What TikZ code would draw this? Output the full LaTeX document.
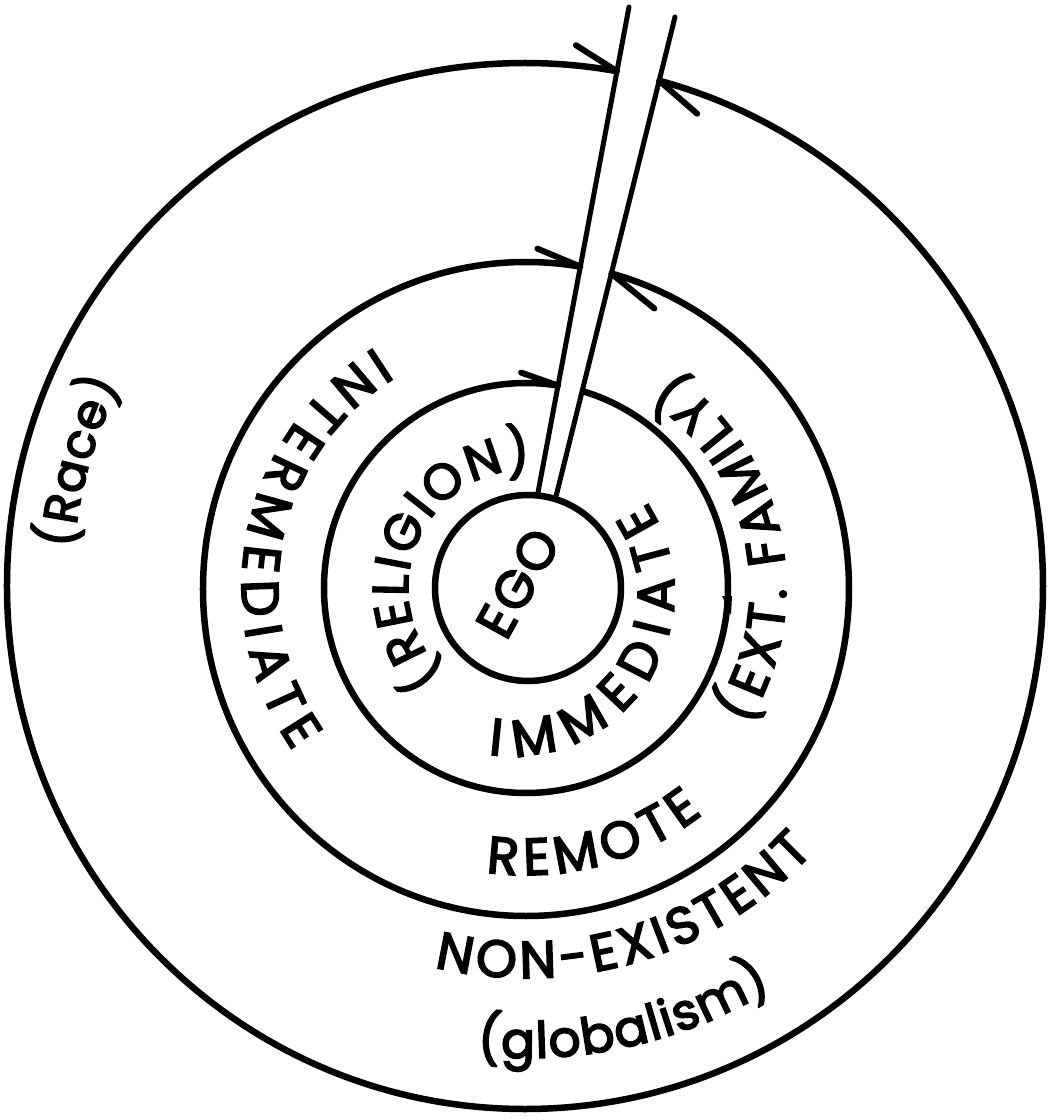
\documentclass[tikz,border=0pt]{standalone}
\usepackage{fontspec}
\newfontfamily\lbl{Poppins}[FakeBold=3.5]
\newfontfamily\lblsp{Poppins}[FakeBold=3.5, LetterSpace=6]
\usetikzlibrary{decorations.text,intersections,calc}
\newcommand\capsfont{\lbl\fontsize{52}{52}\selectfont}
\newcommand\relfont{\lbl\fontsize{50}{50}\selectfont}
\newcommand\lowfont{\lbl\fontsize{50}{50}\selectfont}
\newcommand\racefont{\lbl\fontsize{48}{48}\selectfont}
\newcommand\egofont{\lblsp\fontsize{52}{52}\selectfont}
\tikzset{
  ring/.style={line width=6.5pt},
  pointer/.style={line width=5pt, line cap=round},
  barb/.style={line width=6pt, line cap=round},
  arclabel/.style={decorate, decoration={text along path, text align={fit to path}, text={#1}}},
}
\begin{document}
\begin{tikzpicture}[x=1pt,y=1pt]
\useasboundingbox (-526,-532) rectangle (530,588);
\fill[white] (-526,-532) rectangle (530,588);
% rings
\draw[ring, name path=outer] (-1,2) ellipse [x radius=518, y radius=523];
\draw[ring, name path=mid] (0,-1) ellipse [x radius=323, y radius=327];
\draw[ring, name path=inner] (0,0) ellipse [x radius=202, y radius=205];
\node[draw, ring, circle, minimum size=186pt, inner sep=0pt] (ego) at (2,0) {};
% pointer
\coordinate (lbot) at (ego.84);
\coordinate (rbot) at (ego.73);
\coordinate (ltop) at (103,581);
\coordinate (rtop) at (149,571);
\fill[white] ($(lbot)!0.012!(ltop)$) -- (ltop) -- (rtop) -- ($(rbot)!0.012!(rtop)$) -- cycle;
\draw[pointer, name path=lline] (lbot) -- (ltop);
\draw[pointer, name path=rline] (rbot) -- (rtop);
\path[name intersections={of=outer and lline, by=lo}];
\path[name intersections={of=mid and lline, by=lm}];
\path[name intersections={of=inner and lline, by=li}];
\path[name intersections={of=outer and rline, by=ro}];
\path[name intersections={of=mid and rline, by=rm}];
\draw[barb] (lo) -- ++(-41,26);
\draw[barb] (lm) -- ++(-43,18);
\draw[barb] (li) -- ++(-37,13);
\draw[barb] (ro) -- ++(38,-33);
\draw[barb] (rm) -- ++(43,-35);
\fill (205,-27) -- (196,-8) -- (206,-8) -- cycle;
% labels
\node[rotate=61, font=\egofont] (egolabel) at (-8,5) {EGO};
\path[arclabel={|\relfont|(RELIGION)}] (226:118) arc[start angle=226, end angle=88, radius=118];
\path[arclabel={|\capsfont|IMMEDIATE}] ($(-15,-5)+(262:163)$) arc[start angle=262, end angle=394, radius=163];
\path[arclabel={|\capsfont|INTERMEDIATE}] (122:284) arc[start angle=122, end angle=215, radius=284];
\path[arclabel={|\capsfont|(EXT. FAMILY)}] (-32:260) arc[start angle=-32, end angle=56, radius=260];
\path[arclabel={|\capsfont|REMOTE}] (262:287) arc[start angle=262, end angle=308, radius=287];
\path[arclabel={|\capsfont|NON-EXISTENT}] (256.4:390) arc[start angle=256.4, end angle=317.4, radius=390];
\path[arclabel={|\lowfont|(globalism)}] (264:470) arc[start angle=264, end angle=301.5, radius=470];
\path[arclabel={|\racefont|(Race)}] (175:454) arc[start angle=175, end angle=153.5, radius=454];
\end{tikzpicture}
\end{document}
